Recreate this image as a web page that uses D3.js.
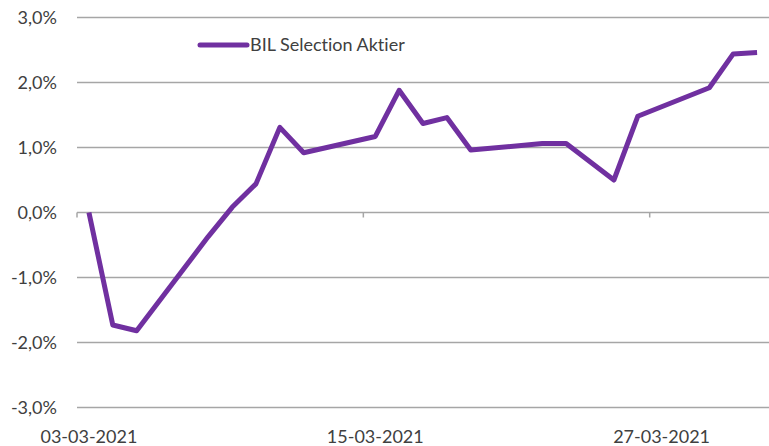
<!DOCTYPE html>
<html>
<head>
<meta charset="utf-8">
<script src="https://cdn.jsdelivr.net/npm/d3@7"></script>
<style>
  body { margin: 0; background: #fff; }
  text { font-family: Lato, "Open Sans", sans-serif; fill: #404040; font-variant-ligatures: none; }
</style>
</head>
<body>
<div id="chart"></div>
<script>
// data
var dates = ["03-03-2021","04-03-2021","05-03-2021","08-03-2021","09-03-2021","10-03-2021",
  "11-03-2021","12-03-2021","15-03-2021","16-03-2021","17-03-2021","18-03-2021","19-03-2021",
  "22-03-2021","23-03-2021","24-03-2021","25-03-2021","26-03-2021","29-03-2021","30-03-2021","31-03-2021"];
var values = [0.0, -1.73, -1.82, -0.37, 0.08, 0.44, 1.31, 0.92, 1.17, 1.88, 1.37, 1.46, 0.96,
  1.06, 1.06, 0.78, 0.50, 1.48, 1.92, 2.44, 2.46];
var seriesName = "BIL Selection Aktier";
var xLabels = ["03-03-2021", "15-03-2021", "27-03-2021"];
var yTicks = [-3, -2, -1, 0, 1, 2, 3];

var width = 769, height = 446;
var margin = {top: 17.5, right: 0, bottom: 38.5, left: 77};

var svg = d3.select("#chart")
  .append("svg")
    .attr("width", width)
    .attr("height", height);

var parse = d3.timeParse("%d-%m-%Y");
var data = dates.map(function (d, i) { return {date: parse(d), value: values[i]}; });

var half = 12 * 3600 * 1000;
var first = parse(dates[0]), last = parse(dates[dates.length - 1]);

var x = d3.scaleTime()
  .domain([new Date(+first - half), new Date(+last + half)])
  .range([margin.left, width - margin.right]);

var y = d3.scaleLinear()
  .domain([-3, 3])
  .range([height - margin.bottom, margin.top]);

var locale = d3.formatLocale({decimal: ",", thousands: ".", grouping: [3], currency: ["", "€"], minus: "-"});
var fmt = locale.format(".1%");

// gridlines
svg.append("g")
  .selectAll("line")
  .data(yTicks)
  .enter()
  .append("line")
    .attr("x1", margin.left)
    .attr("x2", width - margin.right)
    .attr("y1", function (d) { return y(d); })
    .attr("y2", function (d) { return y(d); })
    .attr("stroke", "#a6a6a6")
    .attr("stroke-width", 1.5);

// y labels
svg.append("g")
  .selectAll("text")
  .data(yTicks)
  .enter()
  .append("text")
    .attr("x", 57)
    .attr("y", function (d) { return y(d); })
    .attr("dy", "0.35em")
    .attr("text-anchor", "end")
    .style("font-size", "18px")
    .text(function (d) { return fmt(d / 100); });

// tick marks on the zero line, between the labelled days
var tickDates = xLabels.map(function (d) { return new Date(+parse(d) - half); });
svg.append("g")
  .selectAll("line")
  .data(tickDates)
  .enter()
  .append("line")
    .attr("x1", function (d) { return x(d); })
    .attr("x2", function (d) { return x(d); })
    .attr("y1", y(0))
    .attr("y2", y(0) + 5)
    .attr("stroke", "#a6a6a6")
    .attr("stroke-width", 1.5);

// x labels
svg.append("g")
  .selectAll("text")
  .data(xLabels)
  .enter()
  .append("text")
    .attr("x", function (d) { return x(parse(d)); })
    .attr("y", 443)
    .attr("text-anchor", "middle")
    .style("font-size", "18px")
    .text(function (d) { return d; });

// series line
var line = d3.line()
  .x(function (d) { return x(d.date); })
  .y(function (d) { return y(d.value); });

svg.append("path")
  .datum(data)
  .attr("d", line)
  .attr("fill", "none")
  .attr("stroke", "#7030a0")
  .attr("stroke-width", 5)
  .attr("stroke-linejoin", "round");

// legend
var lg = svg.append("g");
lg.append("line")
  .attr("x1", 200).attr("x2", 247)
  .attr("y1", 45).attr("y2", 45)
  .attr("stroke", "#7030a0")
  .attr("stroke-width", 5)
  .attr("stroke-linecap", "round");
lg.append("text")
  .attr("x", 250)
  .attr("y", 45)
  .attr("dy", "0.35em")
  .style("font-size", "18px")
  .text(seriesName);
</script>
</body>
</html>
